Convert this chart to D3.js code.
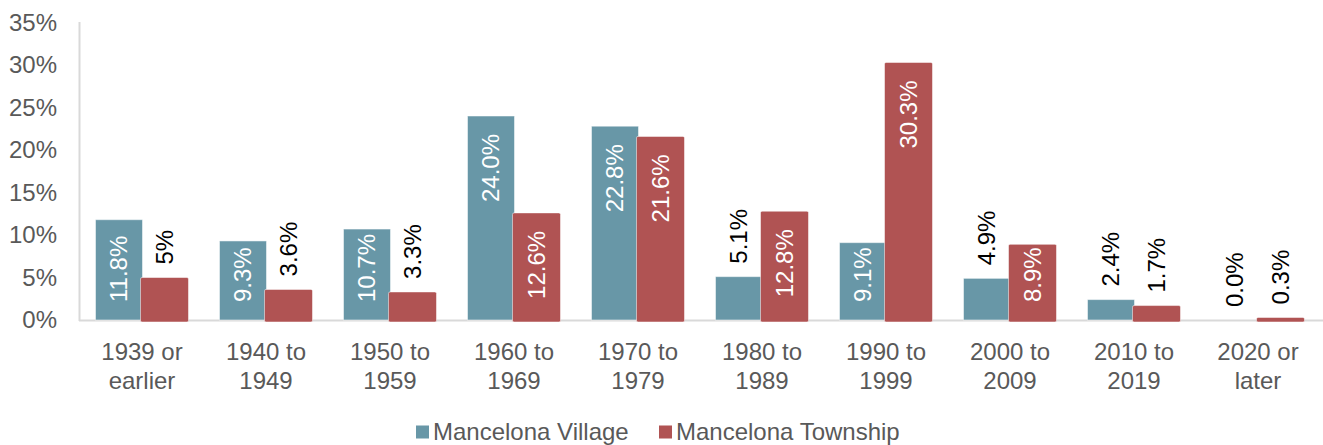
<!DOCTYPE html>
<html>
<head>
<meta charset="utf-8">
<script src="https://cdn.jsdelivr.net/npm/d3@7"></script>
<style>
  body { margin: 0; background: #fff; }
  text { font-family: Arial, "Liberation Sans", sans-serif; }
</style>
</head>
<body>
<svg id="chart"></svg>
<script>
// Data
const categories = ["1939 or earlier", "1940 to 1949", "1950 to 1959", "1960 to 1969", "1970 to 1979",
                    "1980 to 1989", "1990 to 1999", "2000 to 2009", "2010 to 2019", "2020 or later"];
const categoryLines = [["1939 or", "earlier"], ["1940 to", "1949"], ["1950 to", "1959"], ["1960 to", "1969"],
                       ["1970 to", "1979"], ["1980 to", "1989"], ["1990 to", "1999"], ["2000 to", "2009"],
                       ["2010 to", "2019"], ["2020 or", "later"]];
const villageValues = [11.8, 9.3, 10.7, 24.0, 22.8, 5.1, 9.1, 4.9, 2.4, 0.0];
const townshipValues = [5.0, 3.6, 3.3, 12.6, 21.6, 12.8, 30.3, 8.9, 1.7, 0.3];
const villageLabels = ["11.8%", "9.3%", "10.7%", "24.0%", "22.8%", "5.1%", "9.1%", "4.9%", "2.4%", "0.0%"];
const townshipLabels = ["5%", "3.6%", "3.3%", "12.6%", "21.6%", "12.8%", "30.3%", "8.9%", "1.7%", "0.3%"];
const yTicks = [0, 5, 10, 15, 20, 25, 30, 35];
const seriesNames = ["Mancelona Village", "Mancelona Township"];

const colors = ["#6897a7", "#b05353"];

const W = 1323, H = 445;
const svg = d3.select("#chart").attr("width", W).attr("height", H);

// Scales
const x = d3.scaleBand().domain(categories).range([80, 1320]).paddingInner(0.25).paddingOuter(0.125);
const y = d3.scaleLinear().domain([0, 35]).range([320, 22.5]);

// Axis lines
svg.append("line").attr("x1", 79.5).attr("x2", 79.5).attr("y1", 22).attr("y2", 321)
   .attr("stroke", "#d9d9d9").attr("stroke-width", 2);
svg.append("line").attr("x1", 79).attr("x2", 1323).attr("y1", 320.5).attr("y2", 320.5)
   .attr("stroke", "#d9d9d9").attr("stroke-width", 2);

// Y tick labels
const yAxis = d3.axisLeft(y).tickValues(yTicks).tickFormat(d => d + "%").tickSize(0).tickPadding(0);
const yg = svg.append("g").attr("transform", "translate(57,0)").call(yAxis);
yg.select(".domain").remove();
yg.selectAll("text").attr("font-size", 24).attr("fill", "#595959")
  .attr("font-family", "Arial, 'Liberation Sans', sans-serif");

// Category labels
const xg = svg.append("g");
categories.forEach((c, i) => {
  const t = xg.append("text")
    .attr("x", x(c) + x.bandwidth() / 2)
    .attr("text-anchor", "middle")
    .attr("font-size", 24).attr("fill", "#595959");
  categoryLines[i].forEach((line, j) => {
    t.append("tspan").attr("x", x(c) + x.bandwidth() / 2).attr("y", 360 + j * 28.5).text(line);
  });
});

// Bars
const half = x.bandwidth() / 2;
const series = [
  { values: villageValues, labels: villageLabels, off: 0, w: half + 0.5 },
  { values: townshipValues, labels: townshipLabels, off: half - 1.5, w: half + 1.5 }
];

series.forEach((s, si) => {
  const g = svg.append("g");
  g.selectAll("rect")
    .data(categories)
    .join("rect")
    .attr("x", c => x(c) + s.off)
    .attr("width", s.w)
    .attr("y", (c, i) => y(s.values[i]))
    .attr("height", (c, i) => y(0) - y(s.values[i]) + (si === 1 ? 2 : 0))
    .attr("rx", si === 1 ? 1.5 : 0)
    .attr("fill", colors[si])
    .attr("stroke", "#ffffff").attr("stroke-opacity", 0.5).attr("stroke-width", 1);
});

// Data labels (rotated)
series.forEach((s, si) => {
  categories.forEach((c, i) => {
    const v = s.values[i];
    const cx = x(c) + s.off + s.w / 2;
    const top = y(v);
    const t = svg.append("text")
      .attr("font-size", 24)
      .attr("dy", "0.35em")
      .text(s.labels[i]);
    const len = t.node().getComputedTextLength();
    const barH = y(0) - top;
    if (barH > len + 20) {
      // inside end, clamped so the label does not sink below the base
      let yTop = top + 18;
      if (yTop + len > 302) yTop = 302 - len;
      t.attr("fill", "#ffffff")
       .attr("text-anchor", "end")
       .attr("transform", `translate(${cx},${yTop}) rotate(-90)`);
    } else {
      t.attr("fill", "#000000")
       .attr("text-anchor", "start")
       .attr("transform", `translate(${cx},${top - 13}) rotate(-90)`);
    }
  });
});

// Legend
const legend = svg.append("g");
const legendItems = [{ x: 416, name: seriesNames[0] }, { x: 659, name: seriesNames[1] }];
legendItems.forEach((d, i) => {
  legend.append("rect").attr("x", d.x).attr("y", 425.5).attr("width", 13).attr("height", 13)
    .attr("fill", colors[i]);
  legend.append("text").attr("x", d.x + 17).attr("y", 432).attr("dy", "0.35em")
    .attr("font-size", 24).attr("fill", "#595959").text(d.name);
});
</script>
</body>
</html>
